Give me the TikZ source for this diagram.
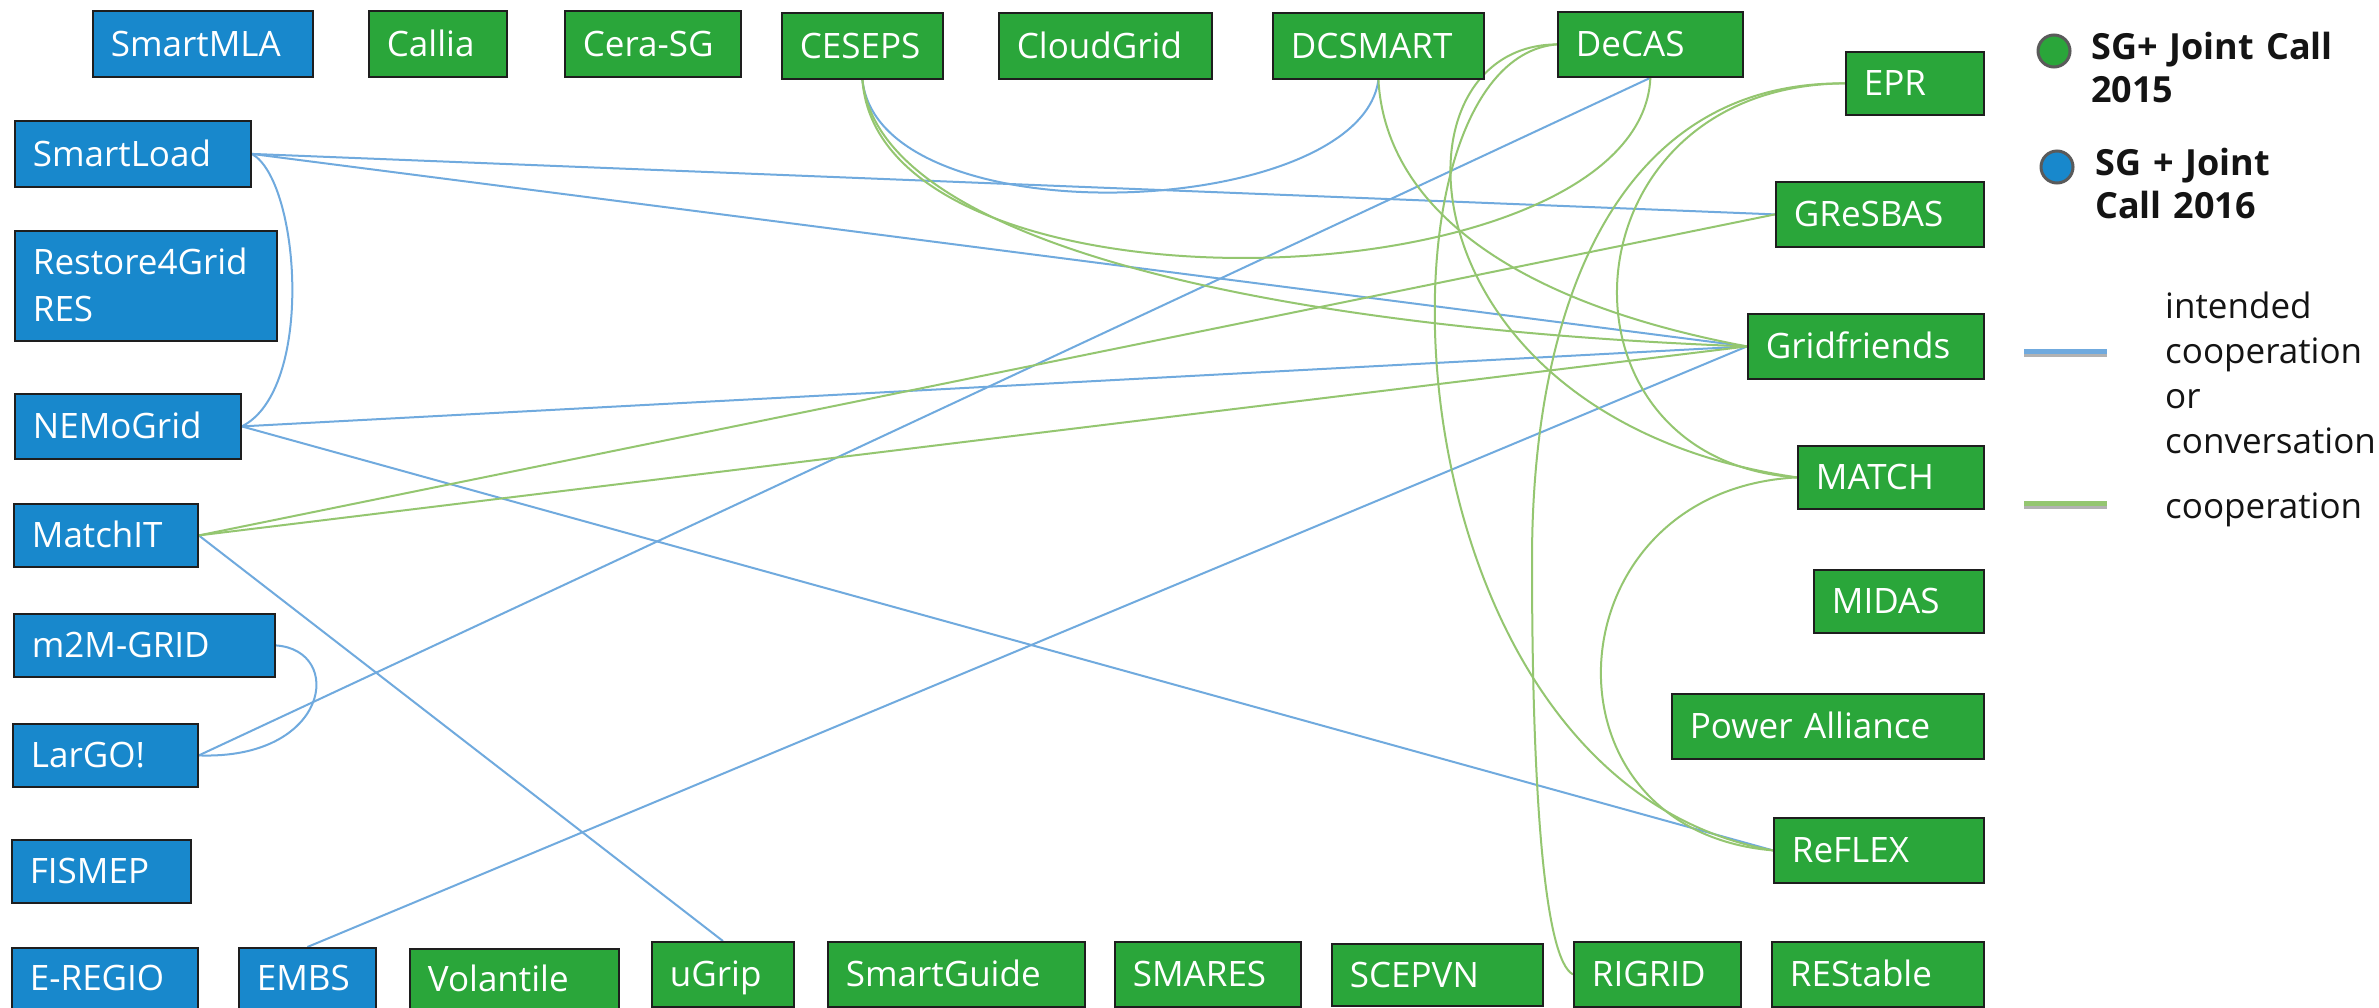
\documentclass[tikz,border=0pt]{standalone}
\usepackage{fontspec}
\setmainfont{Open Sans}
\definecolor{boxblue}{RGB}{24,136,204}
\definecolor{boxgreen}{RGB}{42,166,58}
\definecolor{boxline}{RGB}{30,30,30}
\definecolor{lnblue}{RGB}{112,170,222}
\definecolor{lngreen}{RGB}{148,198,112}
\definecolor{ringgray}{RGB}{90,90,90}
\definecolor{legtext}{RGB}{20,20,20}
\pgfdeclarelayer{bg}
\pgfdeclarelayer{paper}
\pgfsetlayers{paper,bg,main}
\newcommand\pbx[7]{%
  \pgfmathsetmacro\bxw{#4-#2-36}%
  \pgfmathsetmacro\bxh{#5-#3}%
  \node[#6, text width=\bxw pt, minimum height=\bxh pt] (#1) at (#2,#3) {#7};}
\begin{document}
\begin{tikzpicture}[x=1pt,y=-1pt,
  pbox/.style={draw=boxline, line width=1.8pt, text=white, font=\fontsize{35}{47}\selectfont,
    inner xsep=18pt, inner ysep=0pt, align=left, anchor=north west, text height=25pt, text depth=0pt},
  bluebox/.style={pbox, fill=boxblue},
  greenbox/.style={pbox, fill=boxgreen},
  bl/.style={draw=lnblue, line width=2pt},
  gl/.style={draw=lngreen, line width=2pt},
  legdot/.style={circle, draw=ringgray, line width=3pt, minimum size=32pt, inner sep=0pt},
  legbold/.style={anchor=north west, inner sep=0pt, align=left, text width=300pt, text height=0pt,
    text=legtext, font=\fontsize{36}{43}\selectfont\bfseries},
  legreg/.style={anchor=north west, inner sep=0pt, align=left, text width=220pt, text height=0pt,
    text=legtext, font=\fontsize{35}{45}\selectfont},
]
\begin{pgfonlayer}{paper}
\fill[white] (0,0) rectangle (2379,1007);
\end{pgfonlayer}
\useasboundingbox (0,0) rectangle (2379,1007);
% top row
\pbx{SmartMLA}{92}{10}{312}{76}{bluebox}{SmartMLA}
\pbx{Callia}{368}{10}{506}{76}{greenbox}{Callia}
\pbx{CeraSG}{564}{10}{740}{76}{greenbox}{Cera-SG}
\pbx{CESEPS}{781}{12}{942}{78}{greenbox}{CESEPS}
\pbx{CloudGrid}{998}{12}{1211}{78}{greenbox}{CloudGrid}
\pbx{DCSMART}{1272}{12}{1483}{78}{greenbox}{DCSMART}
\pbx{DeCAS}{1557}{11}{1742}{76}{greenbox}{DeCAS}
% left column
\pbx{SmartLoad}{14}{120}{250}{186}{bluebox}{SmartLoad}
\pbx{Restore}{14}{230}{276}{340}{bluebox,text depth=47pt}{Restore4Grid\\RES}
\pbx{NEMoGrid}{14}{393}{240}{458}{bluebox}{NEMoGrid}
\pbx{MatchIT}{13}{503}{197}{566}{bluebox}{MatchIT}
\pbx{m2M}{13}{613}{274}{676}{bluebox}{m2M-GRID}
\pbx{LarGO}{12}{723}{197}{786}{bluebox}{LarGO!}
\pbx{FISMEP}{11}{839}{190}{902}{bluebox}{FISMEP}
% bottom row
\pbx{EREGIO}{11}{947}{197}{1008}{bluebox}{E-REGIO}
\pbx{EMBS}{238}{947}{375}{1008}{bluebox}{EMBS}
\pbx{Volantile}{409}{948}{618}{1008}{greenbox}{Volantile}
\pbx{uGrip}{651}{941}{793}{1006}{greenbox}{uGrip}
\pbx{SmartGuide}{827}{941}{1084}{1006}{greenbox}{SmartGuide}
\pbx{SMARES}{1114}{941}{1300}{1006}{greenbox}{SMARES}
\pbx{SCEPVN}{1331}{943}{1542}{1005}{greenbox}{SCEPVN}
\pbx{RIGRID}{1573}{941}{1740}{1006}{greenbox}{RIGRID}
\pbx{REStable}{1771}{941}{1983}{1006}{greenbox}{REStable}
% right column
\pbx{EPR}{1845}{51}{1983}{114}{greenbox}{EPR}
\pbx{GReSBAS}{1775}{181}{1983}{246}{greenbox}{GReSBAS}
\pbx{Gridfriends}{1747}{313}{1983}{378}{greenbox}{Gridfriends}
\pbx{MATCH}{1797}{445}{1983}{508}{greenbox}{MATCH}
\pbx{MIDAS}{1813}{569}{1983}{632}{greenbox}{MIDAS}
\pbx{PowerAlliance}{1671}{693}{1983}{758}{greenbox}{Power Alliance}
\pbx{ReFLEX}{1773}{817}{1983}{882}{greenbox}{ReFLEX}
% legend
\node[legdot, fill=boxgreen] (dot15) at (2054,51) {};
\node[legbold] (txt15) at (2091,59) {SG+ Joint Call\\2015};
\node[legdot, fill=boxblue] (dot16) at (2057,167) {};
\node[legbold] (txt16) at (2095,175) {SG + Joint\\Call 2016};
\coordinate (lbA) at (2024,351); \coordinate (lbB) at (2107,351);
\coordinate (lgA) at (2024,503); \coordinate (lgB) at (2107,503);
\draw[line width=5pt, black!30] ([yshift=-3pt]lbA) -- ([yshift=-3pt]lbB);
\draw[line width=5pt, lnblue] (lbA) -- (lbB);
\draw[line width=5pt, black!30] ([yshift=-3pt]lgA) -- ([yshift=-3pt]lgB);
\draw[line width=5pt, lngreen] (lgA) -- (lgB);
\node[legreg] (txtblue) at (2165,318) {intended\\cooperation\\or\\conversation};
\node[legreg] (txtgreen) at (2165,518) {cooperation};
\coordinate (eprmid) at (1532,560);
% connectors
\begin{pgfonlayer}{bg}
\draw[bl] (SmartLoad.east) -- (GReSBAS.west);
\draw[bl] (SmartLoad.east) -- (Gridfriends.west);
\draw[bl] (SmartLoad.east) .. controls (300,180) and (315,390) .. (NEMoGrid.east);
\draw[bl] (NEMoGrid.east) -- (Gridfriends.west);
\draw[bl] (NEMoGrid.east) -- (ReFLEX.west);
\draw[bl] (MatchIT.east) -- (uGrip.north);
\draw[bl] (m2M.east) .. controls (345,650) and (330,760) .. (LarGO.east);
\draw[bl] (LarGO.east) -- (DeCAS.south);
\draw[bl] (EMBS.north) -- (Gridfriends.west);
\draw[bl] (CESEPS.south) .. controls (880,240) and (1360,220) .. (DCSMART.south);
\draw[gl] (MatchIT.east) -- (GReSBAS.west);
\draw[gl] (MatchIT.east) -- (Gridfriends.west);
\draw[gl] (CESEPS.south) .. controls (880,330) and (1640,305) .. (DeCAS.south);
\draw[gl] (CESEPS.south) .. controls (880,250) and (1300,330) .. (Gridfriends.west);
\draw[gl] (DCSMART.south) .. controls (1385,200) and (1500,300) .. (Gridfriends.west);
\draw[gl] (DeCAS.west) .. controls (1380,45) and (1400,420) .. (MATCH.west);
\draw[gl] (DeCAS.west) .. controls (1360,60) and (1380,780) .. (ReFLEX.west);
\draw[gl] (EPR.west) .. controls (1560,85) and (1540,460) .. (MATCH.west);
\draw[gl] (EPR.west) .. controls (1620,81) and (1532,300) .. (eprmid) .. controls (1532,800) and (1545,960) .. (RIGRID.west);
\draw[gl] (MATCH.west) .. controls (1550,490) and (1530,830) .. (ReFLEX.west);
\end{pgfonlayer}
\end{tikzpicture}
\end{document}
